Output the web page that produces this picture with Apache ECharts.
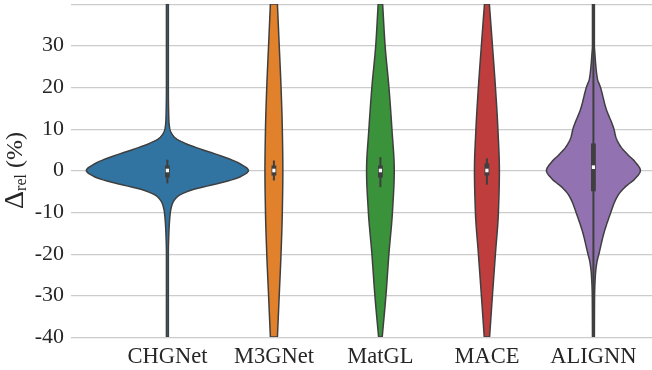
<!DOCTYPE html>
<html>
<head>
<meta charset="utf-8">
<script src="https://cdn.jsdelivr.net/npm/echarts@6/dist/echarts.min.js"></script>
<style>
  html, body { margin: 0; padding: 0; background: #ffffff; }
  #chart { width: 652px; height: 370px; }
</style>
</head>
<body>
<div id="chart"></div>
<script>
// Models along the x axis
const models = ['CHGNet', 'M3GNet', 'MatGL', 'MACE', 'ALIGNN'];
const fillColors = ['#3274a1', '#e1812c', '#3a923a', '#c03d3e', '#9372b2'];

// Y axis ticks (percent)
const yTicks = [-40, -30, -20, -10, 0, 10, 20, 30, 40];

// Kernel-density profiles: levels (Δrel, %) and half-widths (in category units)
const chgnetLevels = [40, 20, 12, 10, 8, 6.5, 5, 3.3, 1.7, 0, -1.5, -3.1, -4.7, -6.3, -8, -10, -15, -20, -40];
const chgnetWidths = [0.009, 0.009, 0.014, 0.023, 0.066, 0.169, 0.329, 0.526, 0.676, 0.761, 0.685, 0.479, 0.225, 0.094, 0.047, 0.028, 0.014, 0.009, 0.009];

const m3gnetLevels = [40, 30, 20, 10, 0, -10, -20, -30, -40];
const m3gnetWidths = [0.033, 0.050, 0.067, 0.079, 0.084, 0.079, 0.067, 0.050, 0.033];

const matglLevels = [40, 30, 20, 10, 0, -10, -20, -30, -40];
const matglWidths = [0.021, 0.044, 0.080, 0.108, 0.130, 0.113, 0.080, 0.052, 0.017];

const maceLevels = [40, 30, 20, 10, 0, -10, -20, -30, -40];
const maceWidths = [0.023, 0.052, 0.080, 0.103, 0.117, 0.108, 0.080, 0.052, 0.025];

const alignnLevels = [40, 30, 28, 25, 22, 20, 15, 10, 8, 6, 4, 2, 0, -2, -4, -6, -8, -10, -15, -20, -22, -25, -30, -40];
const alignnWidths = [0.009, 0.009, 0.014, 0.023, 0.038, 0.066, 0.117, 0.192, 0.211, 0.249, 0.315, 0.394, 0.441, 0.390, 0.296, 0.230, 0.192, 0.164, 0.099, 0.052, 0.033, 0.019, 0.011, 0.009];

// Inner box plots: [whisker low, Q1, median, Q3, whisker high]
const chgnetBox = [-3.1, -1.7, 0, 1.2, 2.6];
const m3gnetBox = [-2.4, -1.2, 0, 1.2, 2.4];
const matglBox = [-4.0, -1.7, 0, 1.2, 3.2];
const maceBox = [-3.4, -1.2, 0, 1.7, 2.9];
const alignnBox = [-40, -5.0, 0.8, 6.5, 40];

const levels = [chgnetLevels, m3gnetLevels, matglLevels, maceLevels, alignnLevels];
const widths = [chgnetWidths, m3gnetWidths, matglWidths, maceWidths, alignnWidths];
const boxes = [chgnetBox, m3gnetBox, matglBox, maceBox, alignnBox];

const edgeColor = '#3f3f3f';
const fontFamily = '"Liberation Serif", "DejaVu Serif", serif';
const textColor = '#262626';

// Monotone cubic (Fritsch–Butland) curve through the profile knots,
// so the violin outline is smooth without overshooting.
function monotoneCurve(xs, ys) {
  const n = xs.length;
  const d = [], m = new Array(n);
  for (let k = 0; k < n - 1; k++) d.push((ys[k + 1] - ys[k]) / (xs[k + 1] - xs[k]));
  m[0] = d[0];
  m[n - 1] = d[n - 2];
  for (let k = 1; k < n - 1; k++) {
    if (d[k - 1] * d[k] <= 0) { m[k] = 0; continue; }
    const h0 = xs[k] - xs[k - 1], h1 = xs[k + 1] - xs[k];
    m[k] = 3 * (h0 + h1) / ((2 * h1 + h0) / d[k - 1] + (h1 + 2 * h0) / d[k]);
  }
  return function (x) {
    let k = 0;
    while (k < n - 2 && x > xs[k + 1]) k++;
    const h = xs[k + 1] - xs[k];
    const t = Math.min(1, Math.max(0, (x - xs[k]) / h));
    const t2 = t * t, t3 = t2 * t;
    return (2 * t3 - 3 * t2 + 1) * ys[k] + (t3 - 2 * t2 + t) * h * m[k]
      + (-2 * t3 + 3 * t2) * ys[k + 1] + (t3 - t2) * h * m[k + 1];
  };
}

function renderViolin(params, api) {
  const i = api.value(0);
  const lv = levels[i].slice().reverse();
  const w = widths[i].slice().reverse();
  const bx = boxes[i];
  const curve = monotoneCurve(lv, w);
  const lo = lv[0], hi = lv[lv.length - 1];
  const steps = 320;
  const right = [], left = [];
  for (let s = 0; s <= steps; s++) {
    const y = lo + (hi - lo) * s / steps;
    const hw = Math.max(0, curve(y));
    right.push(api.coord([i + hw, y]));
    left.push(api.coord([i - hw, y]));
  }
  const pts = right.concat(left.reverse());

  const wLo = api.coord([i, bx[0]]);
  const q1 = api.coord([i, bx[1]]);
  const md = api.coord([i, bx[2]]);
  const q3 = api.coord([i, bx[3]]);
  const wHi = api.coord([i, bx[4]]);
  const cx = md[0];

  return {
    type: 'group',
    children: [
      {
        type: 'polygon',
        shape: { points: pts },
        style: { fill: fillColors[i], stroke: edgeColor, lineWidth: 1.5, lineJoin: 'round' }
      },
      {
        type: 'line',
        shape: { x1: cx, y1: wLo[1], x2: cx, y2: wHi[1] },
        style: { stroke: edgeColor, lineWidth: 2 }
      },
      {
        type: 'rect',
        shape: { x: cx - 2.4, y: q3[1], width: 4.8, height: q1[1] - q3[1] },
        style: { fill: edgeColor }
      },
      {
        type: 'rect',
        shape: { x: cx - 1.6, y: md[1] - 1.8, width: 3.2, height: 3.6 },
        style: { fill: '#ffffff' }
      }
    ]
  };
}

const chart = echarts.init(document.getElementById('chart'), null, { renderer: 'canvas' });

chart.setOption({
  animation: false,
  backgroundColor: '#ffffff',
  grid: { left: 71, right: 0, top: 4, bottom: 33, containLabel: false, outerBoundsMode: 'none' },
  xAxis: {
    type: 'value',
    min: -0.905,
    max: 4.55,
    splitLine: { show: false },
    axisLine: { show: false },
    axisTick: { show: false },
    axisLabel: {
      customValues: [0, 1, 2, 3, 4],
      formatter: function (v) { return models[Math.round(v)]; },
      fontFamily: fontFamily,
      fontSize: 22.5,
      color: textColor,
      margin: 9
    }
  },
  yAxis: {
    type: 'value',
    min: yTicks[0],
    max: yTicks[yTicks.length - 1],
    interval: 10,
    axisLine: { show: true, lineStyle: { color: '#cccccc', width: 1.25 } },
    axisTick: { show: false },
    splitLine: { show: true, lineStyle: { color: '#cccccc', width: 1.25 } },
    axisLabel: {
      fontFamily: fontFamily,
      fontSize: 22,
      color: textColor,
      margin: 7,
      formatter: function (v) { return v === 40 ? '' : String(v); }
    },
    name: '{d|Δ}{s|rel}{p| (%)}',
    nameLocation: 'middle',
    nameGap: 41,
    nameRotate: 90,
    nameMoveOverlap: false,
    nameTextStyle: {
      fontFamily: fontFamily,
      color: textColor,
      rich: {
        d: { fontFamily: fontFamily, fontSize: 28, color: textColor },
        s: { fontFamily: fontFamily, fontSize: 16, color: textColor, verticalAlign: 'bottom', padding: [10, 0, 0, 0] },
        p: { fontFamily: fontFamily, fontSize: 24, color: textColor }
      }
    }
  },
  series: [{
    type: 'custom',
    renderItem: renderViolin,
    data: models.map(function (m, i) { return [i]; }),
    encode: { x: 0 },
    clip: true
  }]
});
</script>
</body>
</html>
